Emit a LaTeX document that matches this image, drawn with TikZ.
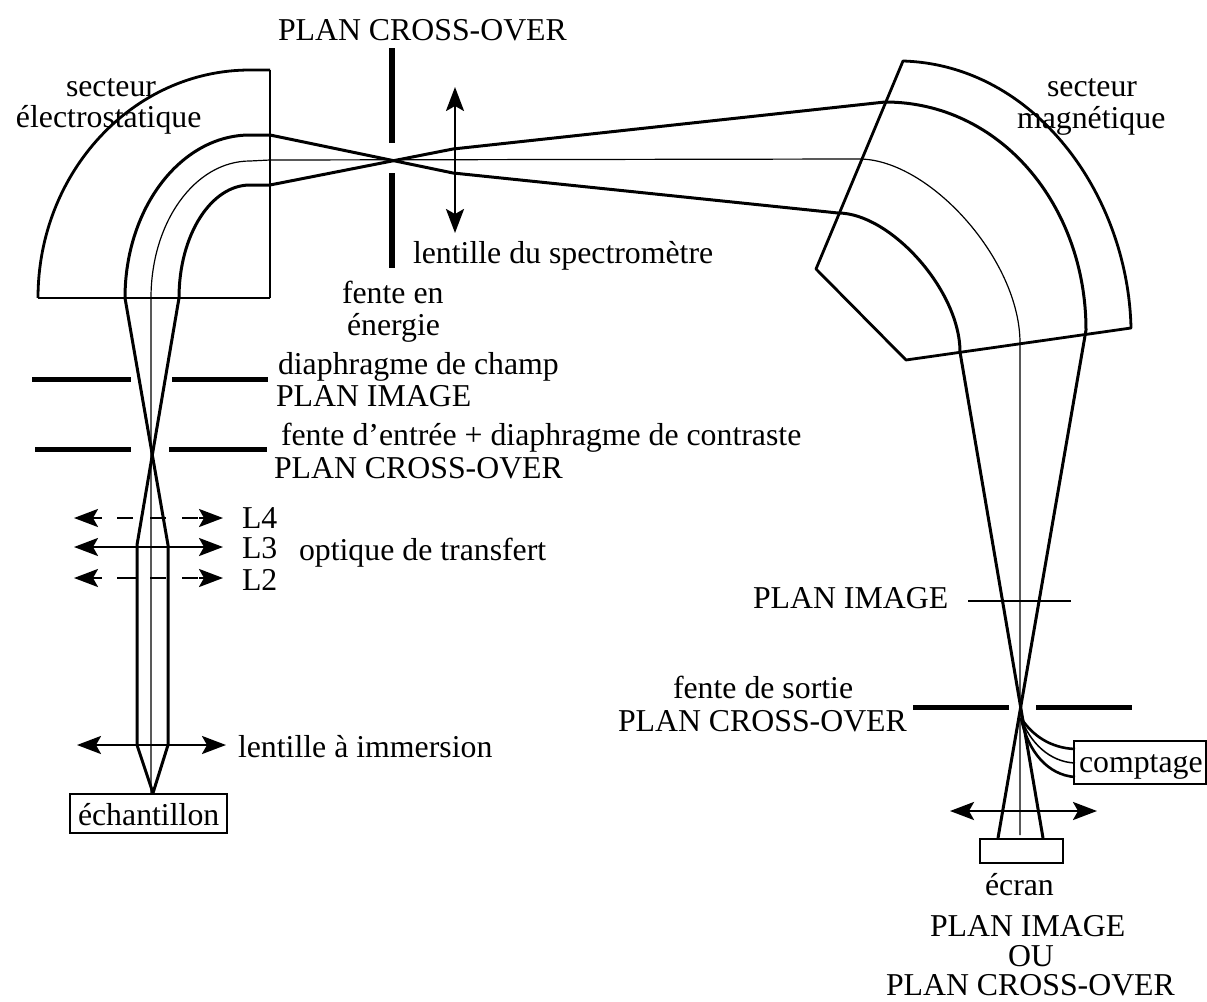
\documentclass[tikz,border=0pt]{standalone}
\usepackage{fontspec}
\setmainfont{Liberation Serif}
\usetikzlibrary{arrows.meta}
\tikzset{
  x=1pt,y=-1pt,
  beam/.style={line width=3pt,line join=round},
  axis/.style={line width=1.2pt},
  wall/.style={line width=2.8pt,line join=round},
  wallthin/.style={line width=1.6pt},
  slit/.style={line width=5pt},
  slitfat/.style={line width=6.5pt},
  lens/.style={line width=2.6pt,{Stealth[length=24pt,width=18pt,inset=5pt]}-{Stealth[length=24pt,width=18pt,inset=5pt]}},
  tipl/.style={line width=2.6pt,{Stealth[length=24pt,width=18pt,inset=5pt]}-},
  tipr/.style={line width=2.6pt,-{Stealth[length=24pt,width=18pt,inset=5pt]}},
  dashp/.style={line width=2.8pt},
  txt/.style={anchor=base west,inner sep=0pt,outer sep=0pt,font=\fontsize{31.8}{34}\selectfont},
  box/.style={line width=1.8pt},
}
\begin{document}
\begin{tikzpicture}
\useasboundingbox (0,0) rectangle (1207,1001);
% electrostatic sector
\draw[wall] (38,298) .. controls (38,172) and (133,70) .. (250,70) -- (270,70);
\draw[wallthin] (270,70) -- (270,298);
\draw[wall,line width=2.6pt] (270,135) -- (270,185);
\draw[wallthin] (38,298) -- (270,298);
\draw[wall] (38,298) -- (125,298);
% magnetic sector
\coordinate (m1) at (903,61);
\coordinate (m2) at (816,269);
\coordinate (m3) at (906,360);
\coordinate (m4) at (1131,328);
\draw[wall] (m4) .. controls (1128,195) and (1035,65) .. (m1) -- (m2) -- (m3) -- cycle;
% central axis
\draw[axis] (151,793) -- (151,298) .. controls (151,222) and (195,161) .. (250,161) -- (270,160) -- (860,159)
  .. controls (930,160) and (1020,260) .. (1020,343) -- (1020,835);
% beams
\draw[beam] (153,793) -- (168,745) -- (168,545) -- (125,298)
  .. controls (125,208) and (181,135) .. (250,135) -- (270,135) -- (453,173) -- (838,213)
  .. controls (890,213) and (960,290) .. (960,352) -- (1043,838);
\draw[beam] (153,793) -- (137,745) -- (137,545) -- (179,298)
  .. controls (179,235) and (211,185) .. (250,185) -- (270,185) -- (453,149) -- (885,102)
  .. controls (1000,102) and (1086,205) .. (1086,330) -- (998,838);
% curved rays to counter
\draw[beam,line width=2.6pt] (1021,718) .. controls (1032,735) and (1050,748) .. (1075,749);
\draw[axis,line width=1.5pt] (1021,718) .. controls (1030,743) and (1050,762) .. (1075,763);
\draw[beam,line width=2.6pt] (1021,718) .. controls (1028,752) and (1048,775) .. (1075,777);
% slits
\draw[slitfat] (392,48) -- (392,143);
\draw[slitfat] (392,173) -- (392,268);
\draw[slit] (32,379) -- (131,379);
\draw[slit] (172,379) -- (268,379);
\draw[slit] (35,449) -- (131,449);
\draw[slit] (169,449) -- (267,449);
\draw[slit] (913,707) -- (1009,707);
\draw[slit] (1036,707) -- (1132,707);
% lenses
\draw[lens] (455,87) -- (455,233);
\draw[lens] (74,547) -- (223,547);
\draw[lens] (77,745) -- (226,745);
\draw[lens] (950,811) -- (1097,811);
% dashed lenses
\draw[tipl] (74,518) -- (102,518);
\draw[dashp] (117,518) -- (133,518);
\draw[dashp] (150,518) -- (166,518);
\draw[dashp] (182,518) -- (198,518);
\draw[tipr] (199,518) -- (223,518);
\draw[tipl] (74,578) -- (102,578);
\draw[dashp] (117,578) -- (137,578);
\draw[dashp] (150,578) -- (166,578);
\draw[dashp] (182,578) -- (198,578);
\draw[tipr] (199,578) -- (223,578);
% plan image
\draw[axis,line width=1.5pt] (968,601) -- (1071,601);
% boxes
\draw[box,line width=2.6pt] (70,794) rectangle (227,833);
\draw[box] (1074,741) rectangle (1206,784);
\draw[box] (980,839) rectangle (1063,863);
% text
\node[txt] (t1) at (278,40) {PLAN CROSS-OVER};
\node[txt] (t2) at (66,96) {secteur};
\node[txt] (t3) at (16,127) {électrostatique};
\node[txt] (t4) at (1047,96) {secteur};
\node[txt] (t5) at (1017,128) {magnétique};
\node[txt] (t6) at (413,263) {lentille du spectromètre};
\node[txt] (t7) at (342,303) {fente en};
\node[txt] (t8) at (347,335) {énergie};
\node[txt] (t9) at (278,374) {diaphragme de champ};
\node[txt] (t10) at (276,406) {PLAN IMAGE};
\node[txt] (t11) at (281,445) {fente d’entrée + diaphragme de contraste};
\node[txt] (t12) at (274,478) {PLAN CROSS-OVER};
\node[txt] (t13) at (242,528) {L4};
\node[txt] (t14) at (242,558) {L3};
\node[txt] (t15) at (242,590) {L2};
\node[txt] (t16) at (299,560) {optique de transfert};
\node[txt] (t17) at (238,757) {lentille à immersion};
\node[txt] (t18) at (78,825) {échantillon};
\node[txt] (t19) at (753,608) {PLAN IMAGE};
\node[txt] (t20) at (673,698) {fente de sortie};
\node[txt] (t21) at (618,731) {PLAN CROSS-OVER};
\node[txt] (t22) at (1079,772) {comptage};
\node[txt] (t23) at (985,895) {écran};
\node[txt] (t24) at (930,936) {PLAN IMAGE};
\node[txt] (t25) at (1008,966) {OU};
\node[txt] (t26) at (886,995) {PLAN CROSS-OVER};
\end{tikzpicture}
\end{document}
